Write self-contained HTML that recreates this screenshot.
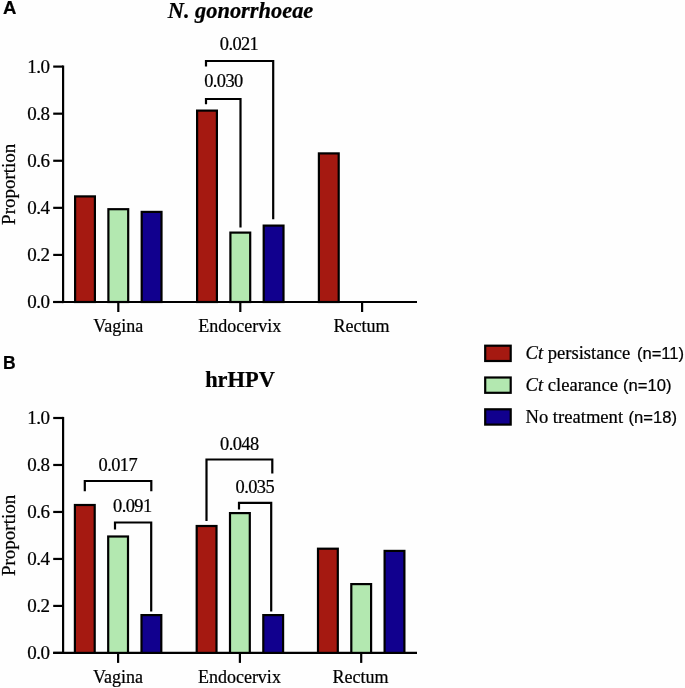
<!DOCTYPE html>
<html><head><meta charset="utf-8"><style>
html,body{margin:0;padding:0;background:#fefefe;}
body{width:685px;height:688px;overflow:hidden;}
svg{display:block;will-change:transform;}
text{stroke:#000;stroke-width:0.22px;}
</style></head><body>
<svg width="685" height="688" viewBox="0 0 685 688">
<rect width="685" height="688" fill="#fefefe"/>
<text x="0" y="0" font-family="'Liberation Sans', sans-serif" font-size="17.5" font-weight="bold" font-style="normal" text-anchor="start" transform="translate(3 14) scale(1.06 1)">A</text>
<text x="240.5" y="18.2" font-family="'Liberation Serif', serif" font-size="22.4" font-weight="bold" font-style="italic" text-anchor="middle" >N. gonorrhoeae</text>
<line x1="63.1" y1="65.5" x2="63.1" y2="303.1" stroke="#000" stroke-width="2.2"/>
<line x1="53.2" y1="302.0" x2="63.1" y2="302.0" stroke="#000" stroke-width="2.2"/>
<text x="49.4" y="308.4" font-family="'Liberation Serif', serif" font-size="19" font-weight="normal" font-style="normal" text-anchor="end" letter-spacing="-0.5">0.0</text>
<line x1="53.2" y1="254.92" x2="63.1" y2="254.92" stroke="#000" stroke-width="2.2"/>
<text x="49.4" y="261.32" font-family="'Liberation Serif', serif" font-size="19" font-weight="normal" font-style="normal" text-anchor="end" letter-spacing="-0.5">0.2</text>
<line x1="53.2" y1="207.83999999999997" x2="63.1" y2="207.83999999999997" stroke="#000" stroke-width="2.2"/>
<text x="49.4" y="214.23999999999998" font-family="'Liberation Serif', serif" font-size="19" font-weight="normal" font-style="normal" text-anchor="end" letter-spacing="-0.5">0.4</text>
<line x1="53.2" y1="160.76" x2="63.1" y2="160.76" stroke="#000" stroke-width="2.2"/>
<text x="49.4" y="167.16" font-family="'Liberation Serif', serif" font-size="19" font-weight="normal" font-style="normal" text-anchor="end" letter-spacing="-0.5">0.6</text>
<line x1="53.2" y1="113.67999999999998" x2="63.1" y2="113.67999999999998" stroke="#000" stroke-width="2.2"/>
<text x="49.4" y="120.07999999999998" font-family="'Liberation Serif', serif" font-size="19" font-weight="normal" font-style="normal" text-anchor="end" letter-spacing="-0.5">0.8</text>
<line x1="53.2" y1="66.6" x2="63.1" y2="66.6" stroke="#000" stroke-width="2.2"/>
<text x="49.4" y="73.0" font-family="'Liberation Serif', serif" font-size="19" font-weight="normal" font-style="normal" text-anchor="end" letter-spacing="-0.5">1.0</text>
<line x1="53.2" y1="302.0" x2="417" y2="302.0" stroke="#000" stroke-width="2.2"/>
<line x1="118.3" y1="302.0" x2="118.3" y2="312.0" stroke="#000" stroke-width="2.2"/>
<line x1="240.3" y1="302.0" x2="240.3" y2="312.0" stroke="#000" stroke-width="2.2"/>
<line x1="362.1" y1="302.0" x2="362.1" y2="312.0" stroke="#000" stroke-width="2.2"/>
<text x="118.3" y="331.9" font-family="'Liberation Serif', serif" font-size="18" font-weight="normal" font-style="normal" text-anchor="middle" >Vagina</text>
<text x="239.8" y="331.9" font-family="'Liberation Serif', serif" font-size="18" font-weight="normal" font-style="normal" text-anchor="middle" >Endocervix</text>
<text x="361.5" y="331.9" font-family="'Liberation Serif', serif" font-size="18" font-weight="normal" font-style="normal" text-anchor="middle" >Rectum</text>
<rect x="75.10" y="196.40" width="19.80" height="105.60" fill="#a51911" stroke="#000" stroke-width="2.2"/>
<rect x="108.40" y="209.20" width="19.80" height="92.80" fill="#b3e8b0" stroke="#000" stroke-width="2.2"/>
<rect x="141.70" y="211.90" width="19.80" height="90.10" fill="#11008e" stroke="#000" stroke-width="2.2"/>
<rect x="197.10" y="110.60" width="19.80" height="191.40" fill="#a51911" stroke="#000" stroke-width="2.2"/>
<rect x="230.40" y="232.60" width="19.80" height="69.40" fill="#b3e8b0" stroke="#000" stroke-width="2.2"/>
<rect x="263.70" y="225.60" width="19.80" height="76.40" fill="#11008e" stroke="#000" stroke-width="2.2"/>
<rect x="318.90" y="153.40" width="19.80" height="148.60" fill="#a51911" stroke="#000" stroke-width="2.2"/>
<text x="15.4" y="184.3" font-family="'Liberation Serif', serif" font-size="19" font-weight="normal" font-style="normal" text-anchor="middle" transform="rotate(-90 15.4 184.3)">Proportion</text>
<path d="M206 66.6 V61 H273.2 V219.3" fill="none" stroke="#000" stroke-width="2.2" stroke-linejoin="miter" stroke-linecap="butt"/>
<text x="239" y="50.1" font-family="'Liberation Serif', serif" font-size="18.4" font-weight="normal" font-style="normal" text-anchor="middle" letter-spacing="-0.6">0.021</text>
<path d="M206 104.2 V99 H240.5 V227.5" fill="none" stroke="#000" stroke-width="2.2" stroke-linejoin="miter" stroke-linecap="butt"/>
<text x="223.4" y="87.1" font-family="'Liberation Serif', serif" font-size="18.4" font-weight="normal" font-style="normal" text-anchor="middle" letter-spacing="-0.6">0.030</text>
<text x="3" y="368.8" font-family="'Liberation Sans', sans-serif" font-size="17.5" font-weight="bold" font-style="normal" text-anchor="start" >B</text>
<text x="240" y="387" font-family="'Liberation Serif', serif" font-size="22.4" font-weight="bold" font-style="normal" text-anchor="middle" >hrHPV</text>
<line x1="63.1" y1="416.9" x2="63.1" y2="654.0" stroke="#000" stroke-width="2.2"/>
<line x1="53.2" y1="652.9" x2="63.1" y2="652.9" stroke="#000" stroke-width="2.2"/>
<text x="49.4" y="659.3" font-family="'Liberation Serif', serif" font-size="19" font-weight="normal" font-style="normal" text-anchor="end" letter-spacing="-0.5">0.0</text>
<line x1="53.2" y1="605.92" x2="63.1" y2="605.92" stroke="#000" stroke-width="2.2"/>
<text x="49.4" y="612.3199999999999" font-family="'Liberation Serif', serif" font-size="19" font-weight="normal" font-style="normal" text-anchor="end" letter-spacing="-0.5">0.2</text>
<line x1="53.2" y1="558.9399999999999" x2="63.1" y2="558.9399999999999" stroke="#000" stroke-width="2.2"/>
<text x="49.4" y="565.3399999999999" font-family="'Liberation Serif', serif" font-size="19" font-weight="normal" font-style="normal" text-anchor="end" letter-spacing="-0.5">0.4</text>
<line x1="53.2" y1="511.96" x2="63.1" y2="511.96" stroke="#000" stroke-width="2.2"/>
<text x="49.4" y="518.36" font-family="'Liberation Serif', serif" font-size="19" font-weight="normal" font-style="normal" text-anchor="end" letter-spacing="-0.5">0.6</text>
<line x1="53.2" y1="464.97999999999996" x2="63.1" y2="464.97999999999996" stroke="#000" stroke-width="2.2"/>
<text x="49.4" y="471.37999999999994" font-family="'Liberation Serif', serif" font-size="19" font-weight="normal" font-style="normal" text-anchor="end" letter-spacing="-0.5">0.8</text>
<line x1="53.2" y1="418.0" x2="63.1" y2="418.0" stroke="#000" stroke-width="2.2"/>
<text x="49.4" y="424.4" font-family="'Liberation Serif', serif" font-size="19" font-weight="normal" font-style="normal" text-anchor="end" letter-spacing="-0.5">1.0</text>
<line x1="53.2" y1="652.9" x2="417" y2="652.9" stroke="#000" stroke-width="2.2"/>
<line x1="118.1" y1="652.9" x2="118.1" y2="662.9" stroke="#000" stroke-width="2.2"/>
<line x1="239.9" y1="652.9" x2="239.9" y2="662.9" stroke="#000" stroke-width="2.2"/>
<line x1="361.2" y1="652.9" x2="361.2" y2="662.9" stroke="#000" stroke-width="2.2"/>
<text x="118.1" y="682.8" font-family="'Liberation Serif', serif" font-size="18" font-weight="normal" font-style="normal" text-anchor="middle" >Vagina</text>
<text x="239.4" y="682.8" font-family="'Liberation Serif', serif" font-size="18" font-weight="normal" font-style="normal" text-anchor="middle" >Endocervix</text>
<text x="360.59999999999997" y="682.8" font-family="'Liberation Serif', serif" font-size="18" font-weight="normal" font-style="normal" text-anchor="middle" >Rectum</text>
<rect x="74.90" y="505.00" width="19.80" height="147.90" fill="#a51911" stroke="#000" stroke-width="2.2"/>
<rect x="108.20" y="536.50" width="19.80" height="116.40" fill="#b3e8b0" stroke="#000" stroke-width="2.2"/>
<rect x="141.50" y="615.10" width="19.80" height="37.80" fill="#11008e" stroke="#000" stroke-width="2.2"/>
<rect x="196.70" y="526.00" width="19.80" height="126.90" fill="#a51911" stroke="#000" stroke-width="2.2"/>
<rect x="230.00" y="513.10" width="19.80" height="139.80" fill="#b3e8b0" stroke="#000" stroke-width="2.2"/>
<rect x="263.30" y="615.10" width="19.80" height="37.80" fill="#11008e" stroke="#000" stroke-width="2.2"/>
<rect x="318.00" y="548.70" width="19.80" height="104.20" fill="#a51911" stroke="#000" stroke-width="2.2"/>
<rect x="351.30" y="584.10" width="19.80" height="68.80" fill="#b3e8b0" stroke="#000" stroke-width="2.2"/>
<rect x="384.60" y="550.90" width="19.80" height="102.00" fill="#11008e" stroke="#000" stroke-width="2.2"/>
<text x="15.4" y="535.4499999999999" font-family="'Liberation Serif', serif" font-size="19" font-weight="normal" font-style="normal" text-anchor="middle" transform="rotate(-90 15.4 535.4499999999999)">Proportion</text>
<path d="M84.8 491.3 V481 H151.3 V491.3" fill="none" stroke="#000" stroke-width="2.2" stroke-linejoin="miter" stroke-linecap="butt"/>
<text x="117.8" y="470.90000000000003" font-family="'Liberation Serif', serif" font-size="18.4" font-weight="normal" font-style="normal" text-anchor="middle" letter-spacing="-0.6">0.017</text>
<path d="M115 529.4 V522.5 H151.2 V611.4" fill="none" stroke="#000" stroke-width="2.2" stroke-linejoin="miter" stroke-linecap="butt"/>
<text x="132.3" y="512.1" font-family="'Liberation Serif', serif" font-size="18.4" font-weight="normal" font-style="normal" text-anchor="middle" letter-spacing="-0.6">0.091</text>
<path d="M206.5 520.9 V459.5 H272.3 V473.5" fill="none" stroke="#000" stroke-width="2.2" stroke-linejoin="miter" stroke-linecap="butt"/>
<text x="239.3" y="449.6" font-family="'Liberation Serif', serif" font-size="18.4" font-weight="normal" font-style="normal" text-anchor="middle" letter-spacing="-0.6">0.048</text>
<path d="M239 509.6 V502.8 H271.2 V611.6" fill="none" stroke="#000" stroke-width="2.2" stroke-linejoin="miter" stroke-linecap="butt"/>
<text x="254.8" y="492.6" font-family="'Liberation Serif', serif" font-size="18.4" font-weight="normal" font-style="normal" text-anchor="middle" letter-spacing="-0.6">0.035</text>
<rect x="485.20" y="345.70" width="25.50" height="15.30" fill="#a51911" stroke="#000" stroke-width="2.2"/>
<text x="525.5" y="358.90000000000003" font-family="'Liberation Serif', serif" font-size="18.6" font-weight="normal" font-style="normal" text-anchor="start" ><tspan font-style="italic">Ct</tspan> persistance</text>
<text x="636.9" y="358.90000000000003" font-family="'Liberation Sans', sans-serif" font-size="16.6" font-weight="normal" font-style="normal" text-anchor="start" >(n=11)</text>
<rect x="485.20" y="377.50" width="25.50" height="15.30" fill="#b3e8b0" stroke="#000" stroke-width="2.2"/>
<text x="525.5" y="390.70000000000005" font-family="'Liberation Serif', serif" font-size="18.6" font-weight="normal" font-style="normal" text-anchor="start" ><tspan font-style="italic">Ct</tspan> clearance</text>
<text x="623.0" y="390.70000000000005" font-family="'Liberation Sans', sans-serif" font-size="16.6" font-weight="normal" font-style="normal" text-anchor="start" >(n=10)</text>
<rect x="485.20" y="409.30" width="25.50" height="15.30" fill="#11008e" stroke="#000" stroke-width="2.2"/>
<text x="525.5" y="422.50000000000006" font-family="'Liberation Serif', serif" font-size="18.6" font-weight="normal" font-style="normal" text-anchor="start" >No treatment</text>
<text x="628.6" y="422.50000000000006" font-family="'Liberation Sans', sans-serif" font-size="16.6" font-weight="normal" font-style="normal" text-anchor="start" >(n=18)</text>
</svg>
</body></html>
